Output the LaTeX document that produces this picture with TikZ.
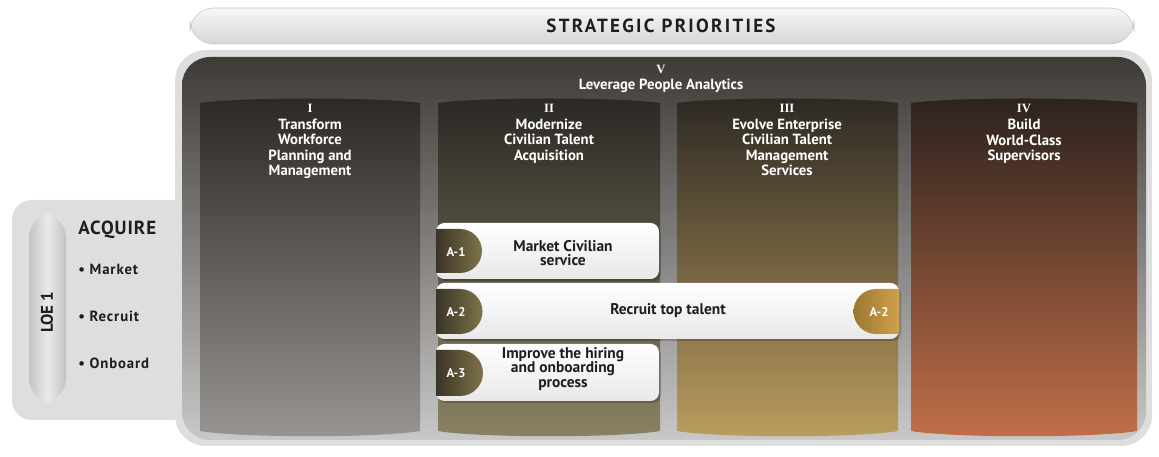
\documentclass[tikz,border=0pt]{standalone}
\usepackage{fontspec}
\setmainfont{PT Sans}
\newfontfamily\numfont{Liberation Serif}
\usepackage{xcolor}
\usetikzlibrary{positioning}

\definecolor{framegray}{HTML}{DEDEDE}
\definecolor{paneltop}{HTML}{3E3A36}
\definecolor{panelmid}{HTML}{5E5B57}
\definecolor{panelbot}{HTML}{C8C8C8}
\definecolor{colItop}{HTML}{2B2825}
\definecolor{colImid}{HTML}{3E3B38}
\definecolor{colIbot}{HTML}{989492}
\definecolor{colIItop}{HTML}{2B2925}
\definecolor{colIImid}{HTML}{433E31}
\definecolor{colIIbot}{HTML}{8A8263}
\definecolor{colIIItop}{HTML}{2D2923}
\definecolor{colIIImid}{HTML}{54472F}
\definecolor{colIIIbot}{HTML}{BA9D5E}
\definecolor{colIVtop}{HTML}{2C221E}
\definecolor{colIVmid}{HTML}{5A3727}
\definecolor{colIVbot}{HTML}{C06E48}
\definecolor{badgedark}{HTML}{3A3426}
\definecolor{badgeolive}{HTML}{7E7349}
\definecolor{badgegold}{HTML}{CFA24A}
\definecolor{badgebrown}{HTML}{9C7632}
\definecolor{inkdark}{HTML}{1E1E1E}

\tikzset{
  coltitle/.style={text=white,font=\bfseries\fontsize{10.5}{11}\selectfont,align=center,inner sep=0pt},
  colnum/.style={text=white,font=\numfont\bfseries\fontsize{9}{9}\selectfont,inner sep=0pt},
  cardtext/.style={text=inkdark,font=\bfseries\fontsize{11}{10.5}\selectfont,align=center,inner sep=0pt},
  badgetext/.style={text=white,font=\bfseries\fontsize{9}{10}\selectfont,inner sep=0pt},
  loeitem/.style={text=inkdark,font=\bfseries\addfontfeatures{LetterSpace=6}\fontsize{10.5}{12}\selectfont,anchor=west,inner sep=0pt},
}

\begin{document}
\begin{tikzpicture}[x=0.025cm,y=-0.025cm]
	\useasboundingbox (0,0) rectangle (1159,457);
	% top banner
	\shade[top color=gray!6,bottom color=gray!32,draw=gray!45,rounded corners=17] (190,8) rectangle (1134,44);
	\node[text=inkdark,font=\bfseries\addfontfeatures{LetterSpace=12}\fontsize{13.5}{14}\selectfont,inner sep=0pt] (strat) at (661,26) {STRATEGIC PRIORITIES};
	% LOE panel and frame
	\fill[framegray,rounded corners=14] (12,200) rectangle (200,420);
	\fill[framegray,rounded corners=22] (175,50) rectangle (1152,446);
	\shade[top color=paneltop,middle color=panelmid,bottom color=panelbot,rounded corners=20] (182,57) rectangle (1146,440);
	\shade[left color=gray!48,right color=gray!48,middle color=gray!16,rounded corners=18] (29,213) rectangle (66,403);
	\node[rotate=90,text=inkdark,font=\bfseries\fontsize{12}{12}\selectfont,inner sep=0pt] (loe) at (47,312) {LOE 1};
	\node[anchor=west,text=inkdark,font=\bfseries\addfontfeatures{LetterSpace=5}\fontsize{13.5}{14}\selectfont,inner sep=0pt] (acq) at (78,230) {ACQUIRE};
	\node[loeitem] (market) at (78,269) {• Market};
	\node[loeitem] (recruit) at (78,316) {• Recruit};
	\node[loeitem] (onboard) at (78,363) {• Onboard};
	% columns
	\shade[top color=colItop,middle color=colImid,bottom color=colIbot] (200,103) .. controls (240,97) and (380,97) .. (420,103) -- (420,431) .. controls (380,438) and (240,438) .. (200,431) -- cycle;
	\shade[top color=colIItop,middle color=colIImid,bottom color=colIIbot] (438,103) .. controls (478,97) and (620,97) .. (660,103) -- (660,431) .. controls (620,438) and (478,438) .. (438,431) -- cycle;
	\shade[top color=colIIItop,middle color=colIIImid,bottom color=colIIIbot] (677,103) .. controls (717,97) and (858,97) .. (898,103) -- (898,431) .. controls (858,438) and (717,438) .. (677,431) -- cycle;
	\shade[top color=colIVtop,middle color=colIVmid,bottom color=colIVbot] (911,103) .. controls (951,97) and (1097,97) .. (1137,103) -- (1137,431) .. controls (1097,438) and (951,438) .. (911,431) -- cycle;
	% titles
	\node[colnum] (nV) at (661,69) {V};
	\node[coltitle,below=4pt of nV] (lev) {Leverage People Analytics};
	\node[colnum] (nI) at (310,108) {I};
	\node[coltitle,below=4.5pt of nI] (tI) {Transform\\Workforce\\Planning and\\Management};
	\node[colnum] (nII) at (549,108) {II};
	\node[coltitle,below=4.5pt of nII] (tII) {Modernize\\Civilian Talent\\Acquisition};
	\node[colnum] (nIII) at (787,108) {III};
	\node[coltitle,below=4.5pt of nIII] (tIII) {Evolve Enterprise\\Civilian Talent\\Management\\Services};
	\node[colnum] (nIV) at (1024,108) {IV};
	\node[coltitle,below=4.5pt of nIV] (tIV) {Build\\World-Class\\Supervisors};
	% objective cards
	\fill[black,opacity=0.2,rounded corners=6] (438,226) rectangle (661,281);
	\shade[top color=white,bottom color=gray!18,rounded corners=6] (436,223) rectangle (659,279);
	\fill[black,opacity=0.2,rounded corners=6] (438,286) rectangle (901,341);
	\shade[top color=white,bottom color=gray!18,rounded corners=6] (436,283) rectangle (899,339);
	\fill[black,opacity=0.2,rounded corners=6] (438,347) rectangle (661,403);
	\shade[top color=white,bottom color=gray!18,rounded corners=6] (436,344) rectangle (659,401);
	\shade[left color=badgedark,right color=badgeolive] (436,229) -- (460,229) arc[start angle=-90,end angle=90,radius=22] -- (436,273) -- cycle;
	\shade[left color=badgedark,right color=badgeolive] (436,289) -- (460,289) arc[start angle=-90,end angle=90,radius=22.5] -- (436,334) -- cycle;
	\shade[left color=badgedark,right color=badgeolive] (436,350) -- (460,350) arc[start angle=-90,end angle=90,radius=23] -- (436,396) -- cycle;
	\shade[left color=badgebrown,right color=badgegold] (899,289) -- (876,289) arc[start angle=-90,end angle=-270,radius=22.5] -- (899,334) -- cycle;
	\node[badgetext] (b1) at (456,252) {A-1};
	\node[badgetext] (b2) at (456,312) {A-2};
	\node[badgetext] (b3) at (456,373) {A-3};
	\node[badgetext] (b2r) at (879,312) {A-2};
	\node[cardtext] (a1) at (563,253) {Market Civilian\\service};
	\node[cardtext] (a2) at (668,311) {Recruit top talent};
	\node[cardtext] (a3) at (563,369) {Improve the hiring\\and onboarding\\process};
\end{tikzpicture}
\end{document}
